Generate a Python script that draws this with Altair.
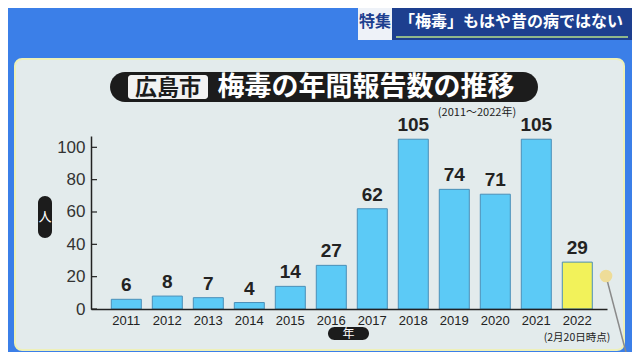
import altair as alt
import pandas as pd

years = ["2011", "2012", "2013", "2014", "2015", "2016", "2017", "2018", "2019", "2020", "2021", "2022"]
cases = [6, 8, 7, 4, 14, 27, 62, 105, 74, 71, 105, 29]
kinds = ["final"] * 11 + ["partial"]
y_ticks = [0, 20, 40, 60, 80, 100]

JP = "Noto Sans CJK JP"
LAT = "Liberation Sans"

W, H = 516, 173
L, T = 83, 128
TOTAL_W, TOTAL_H = 624, 344


def px(x):
    return x - L


def py(y):
    return y - T


df = pd.DataFrame({"year": years, "cases": cases, "kind": kinds})
one = pd.DataFrame({"k": [0]})


def box(x1, x2, y1, y2, color, r=0, stroke=None, sw=0):
    kw = dict(color=color, cornerRadius=r)
    if stroke:
        kw.update(stroke=stroke, strokeWidth=sw)
    return alt.Chart(one).mark_rect(**kw).encode(
        x=alt.value(px(x1)), x2=alt.value(px(x2)),
        y=alt.value(py(y1)), y2=alt.value(py(y2)))


def label(x, y, text, size, color, weight="normal", font=JP, align="center"):
    return alt.Chart(one).mark_text(
        text=text, fontSize=size, color=color, fontWeight=weight,
        font=font, align=align, baseline="middle").encode(
        x=alt.value(px(x)), y=alt.value(py(y)))


deco = [
    # header banner
    box(350, 384, 0, 32, "#eef2f8"),
    box(384, 624, 0, 32, "#1d3f8f"),
    alt.Chart(one).mark_rule(color="#b8e08a", strokeWidth=1.5).encode(
        x=alt.value(px(388)), x2=alt.value(px(620)), y=alt.value(py(29))),
    label(367, 14, "特集", 16, "#1d3f8f", "bold"),
    label(503, 14, "「梅毒」もはや昔の病ではない", 16, "white", "bold"),
    # panel
    box(7, 616, 51, 342, "#e3ebec", r=7, stroke="#eef0b8", sw=2),
    # title pill
    box(102, 530, 64, 94, "#1c1c1c", r=15),
    box(120, 200, 67, 91, "#f2f2f2", r=3),
    label(160, 79.5, "広島市", 22, "#1c1c1c", "bold"),
    label(358, 80, "梅毒の年間報告数の推移", 27, "white", "bold"),
    label(469, 105, "(2011～2022年)", 11, "#222222"),
    # axis title pills
    box(30, 44, 188, 230, "#1c1c1c", r=7),
    label(37, 209, "人", 13, "white"),
    box(320, 361, 319, 332, "#1c1c1c", r=7),
    label(340.5, 325.5, "年", 12, "white"),
    label(569, 330, "(2月20日時点)", 10.5, "#222222"),
]

y_axis = alt.Axis(values=y_ticks, ticks=False, grid=False, labelFont=LAT,
                  labelFontSize=17, labelColor="#333333", labelPadding=6,
                  labelOverlap=False, domainColor="#222222",
                  domainWidth=1.5, zindex=1, title=None)
y_scale = alt.Scale(domain=[0, 107], nice=False)

bars = alt.Chart(df).mark_bar(stroke="#4a8fb8", strokeWidth=1).encode(
    x=alt.X("year:N", sort=years, title=None,
            scale=alt.Scale(paddingInner=0.268, paddingOuter=0.427, align=0.58),
            axis=alt.Axis(labelFont=LAT, labelFontSize=13, labelColor="#222222",
                          labelPadding=5, ticks=False, domainColor="#222222",
                          domainWidth=1.5, labelAngle=0, zindex=1)),
    y=alt.Y("cases:Q", scale=y_scale, axis=y_axis),
    color=alt.Color("kind:N", legend=None,
                    scale=alt.Scale(domain=["final", "partial"],
                                    range=["#5ccaf6", "#f2f25a"])),
)

ticks = alt.Chart(pd.DataFrame({"cases": y_ticks})).mark_rule(
    color="#222222", strokeWidth=1.2).encode(
    y=alt.Y("cases:Q", scale=y_scale, axis=y_axis), x=alt.value(0), x2=alt.value(6))

values = alt.Chart(df).mark_text(
    baseline="bottom", dy=-4, fontSize=19, fontWeight="bold", font=LAT,
    color="#222222").encode(
    x=alt.X("year:N", sort=years), y=alt.Y("cases:Q", scale=y_scale, axis=y_axis),
    text="cases:Q")

pin_line = alt.Chart(one).mark_rule(color="#8a8a8a", strokeWidth=1.5).encode(
    x=alt.value(px(598)), x2=alt.value(px(620)),
    y=alt.value(py(268)), y2=alt.value(py(352)))
pin_ball = alt.Chart(one).mark_point(
    filled=True, shape="circle", size=160, color="#eedc98", opacity=1).encode(
    x=alt.value(px(598)), y=alt.value(py(268)))

chart = alt.layer(*deco, bars, ticks, values, pin_line, pin_ball).properties(
    width=W, height=H,
    padding={"left": L, "top": T, "right": TOTAL_W - L - W, "bottom": TOTAL_H - T - H},
    autosize=alt.AutoSizeParams(type="none"),
    background="#3b7fe8",
).configure_view(stroke=None).configure_axis(labelOverlap=False)

chart.save("out.html", embed_options={"renderer": "svg", "actions": False})
